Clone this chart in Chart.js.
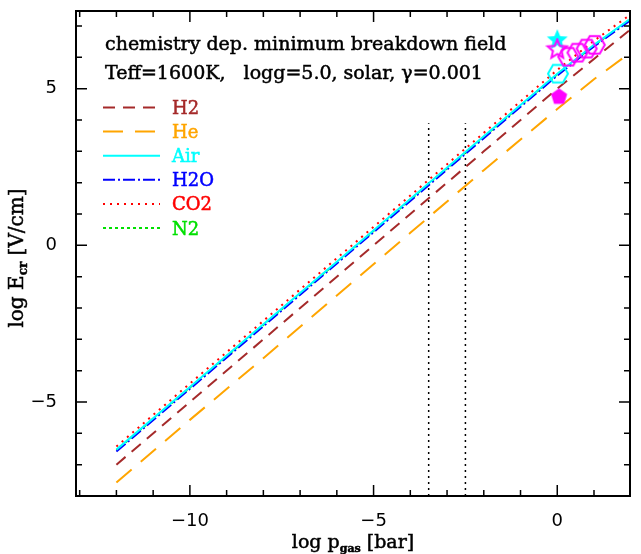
<!DOCTYPE html>
<html>
<head>
<meta charset="utf-8">
<script src="https://cdn.jsdelivr.net/npm/chart.js@4.4.0/dist/chart.umd.min.js"></script>
<style>
  html, body { margin: 0; padding: 0; background: #fff; }
  #wrap { width: 641px; height: 554px; position: relative; }
</style>
</head>
<body>
<div id="wrap"><canvas id="chart"></canvas></div>
<script>
// ── data ────────────────────────────────────────────────────────────────────
const logP = [-12, -10, -8, -6, -4, -2, 0, 1, 1.95];
const eH2  = [-7.0, -5.0, -3.0, -1.0, 1.0, 3.0, 5.0, 5.95, 6.85];
const eHe  = [-7.57, -5.57, -3.6, -1.6, 0.4, 2.4, 4.35, 5.3, 6.12];
const eAir = [-6.52, -4.52, -2.52, -0.52, 1.48, 3.48, 5.48, 6.4, 7.2];
const eH2O = [-6.58, -4.58, -2.58, -0.58, 1.42, 3.42, 5.42, 6.35, 7.15];
const eCO2 = [-6.42, -4.41, -2.41, -0.41, 1.59, 3.59, 5.6, 6.53, 7.33];
const eN2  = [-6.54, -4.54, -2.54, -0.54, 1.46, 3.46, 5.46, 6.38, 7.18];

// vertical markers
const cutP = [-3.5, -2.5];
const cutTop = 3.9;

// symbols near log p = 0
const pentP = [0.05], pentE = [4.74];
const hexP  = [0.02], hexE  = [5.48];
const starP = [0.0],  starE = [6.55];
const mStarP = [0.0], mStarE = [6.25];
const mHexP = [0.3, 0.55, 0.8, 1.02], mHexE = [6.02, 6.15, 6.28, 6.4];

const SERIF = "'DejaVu Serif', serif";
const SANS = "'DejaVu Sans', sans-serif";

const pts = (xs, ys) => xs.map((x, i) => ({ x, y: ys[i] }));

function polyMark(n, r, color, filled, rot) {
  const c = document.createElement('canvas');
  const s = Math.ceil(2 * r + 4);
  c.width = c.height = s;
  const g = c.getContext('2d');
  g.beginPath();
  for (let i = 0; i < n; i++) {
    const t = rot + i * 2 * Math.PI / n;
    const px = s / 2 + r * Math.cos(t), py = s / 2 + r * Math.sin(t);
    i ? g.lineTo(px, py) : g.moveTo(px, py);
  }
  g.closePath();
  if (filled) { g.fillStyle = color; g.fill(); }
  else { g.strokeStyle = color; g.lineWidth = 2; g.stroke(); }
  return c;
}

function starMark(r, color, filled) {
  const c = document.createElement('canvas');
  const s = Math.ceil(2 * r + 4);
  c.width = c.height = s;
  const g = c.getContext('2d');
  g.beginPath();
  for (let i = 0; i < 10; i++) {
    const t = -Math.PI / 2 + i * Math.PI / 5;
    const rr = i % 2 ? r * 0.45 : r;
    const px = s / 2 + rr * Math.cos(t), py = s / 2 + rr * Math.sin(t);
    i ? g.lineTo(px, py) : g.moveTo(px, py);
  }
  g.closePath();
  if (filled) { g.fillStyle = color; g.fill(); }
  else { g.strokeStyle = color; g.lineWidth = 2; g.stroke(); }
  return c;
}

function mark(label, xs, ys, style) {
  return { label, data: pts(xs, ys), showLine: false, pointStyle: style, pointRadius: 10, isMark: true };
}

function curve(label, ys, color, dash) {
  return {
    label, data: pts(logP, ys), showLine: true, borderColor: color, backgroundColor: color,
    borderWidth: 2, borderDash: dash, pointRadius: 0, tension: 0, isCurve: true,
  };
}

const datasets = [
  mark('mhex', mHexP, mHexE, polyMark(6, 10, '#ff00ff', false, 0)),
  mark('mstar', mStarP, mStarE, starMark(10, '#ff00ff', false)),
  mark('star', starP, starE, starMark(11, '#00ffff', true)),
  mark('hex', hexP, hexE, polyMark(6, 10, '#00ffff', false, 0)),
  mark('pent', pentP, pentE, polyMark(5, 8.5, '#ff00ff', true, -Math.PI / 2)),
  curve('H2',  eH2,  '#a52a2a', [12, 8]),
  curve('He',  eHe,  '#ffa500', [20, 12]),
  curve('Air', eAir, '#00ffff', []),
  curve('H2O', eH2O, '#0000ff', [12, 3, 2, 3]),
  curve('CO2', eCO2, '#ff0000', [2, 5]),
  curve('N2',  eN2,  '#00e000', [3, 3]),
  ...cutP.map(p => ({
    label: 'cut', data: [{ x: p, y: -8 }, { x: p, y: cutTop }], showLine: true,
    borderColor: '#000', borderWidth: 1.5, borderDash: [2, 4], pointRadius: 0,
  })),
];

function fmtTick(v) {
  if (!Number.isInteger(v) || v % 5 !== 0) return '';
  return v < 0 ? '\u2212' + Math.abs(v) : String(v);
}

// drop label-overflow padding so the plot box sits where the figure has it
function fixSize(prop, val) {
  return s => {
    s[prop] = val;
    s.paddingTop = s.paddingBottom = s.paddingLeft = s.paddingRight = 0;
  };
}

// text drawn a touch heavier, like the plotter font
function heavyText(ctx, t, x, y, color) {
  ctx.fillStyle = color;
  ctx.strokeStyle = color;
  ctx.lineWidth = 0.5;
  ctx.fillText(t, x, y);
  ctx.strokeText(t, x, y);
}

// ── frame, inward ticks, annotations and legend ─────────────────────────────
const framePlugin = {
  id: 'frame',
  afterDraw(chart) {
    const { ctx, chartArea: a, scales: { x, y } } = chart;
    ctx.save();
    ctx.strokeStyle = '#000';
    ctx.lineWidth = 2;
    ctx.strokeRect(a.left, a.top, a.right - a.left, a.bottom - a.top);
    ctx.lineWidth = 1.5;
    ctx.beginPath();
    for (let v = Math.ceil(x.min); v <= Math.floor(x.max); v++) {
      const px = x.getPixelForValue(v);
      const len = v % 5 === 0 ? 11 : 6;
      ctx.moveTo(px, a.bottom); ctx.lineTo(px, a.bottom - len);
      ctx.moveTo(px, a.top); ctx.lineTo(px, a.top + len);
    }
    for (let v = Math.ceil(y.min); v <= Math.floor(y.max); v++) {
      const py = y.getPixelForValue(v);
      const len = v % 5 === 0 ? 11 : 6;
      ctx.moveTo(a.left, py); ctx.lineTo(a.left + len, py);
      ctx.moveTo(a.right, py); ctx.lineTo(a.right - len, py);
    }
    ctx.stroke();

    // header text
    ctx.textBaseline = 'alphabetic';
    ctx.font = '19px ' + SERIF;
    heavyText(ctx, 'chemistry dep. minimum breakdown field', 105, 50, '#000');
    heavyText(ctx, 'Teff=1600K,   logg=5.0, solar, \u03b3=0.001', 105, 79, '#000');

    // legend
    const curves = chart.data.datasets.filter(d => d.isCurve);
    curves.forEach((d, i) => {
      const base = 114 + i * 24.1;
      ctx.strokeStyle = d.borderColor;
      ctx.lineWidth = 2;
      ctx.setLineDash(d.borderDash);
      ctx.beginPath();
      ctx.moveTo(103, base - 6.5); ctx.lineTo(160, base - 6.5);
      ctx.stroke();
      ctx.setLineDash([]);
      ctx.font = '18px ' + SERIF;
      heavyText(ctx, d.label, 172, base, d.borderColor);
    });

    // axis titles with subscripts
    const title = (parts, cx, cy) => {
      let w = 0;
      parts.forEach(p => { ctx.font = p.f; w += ctx.measureText(p.t).width; });
      let tx = cx - w / 2;
      parts.forEach(p => {
        ctx.font = p.f;
        heavyText(ctx, p.t, tx, cy + (p.dy || 0), '#000');
        tx += ctx.measureText(p.t).width;
      });
    };
    title([
      { t: 'log p', f: '19px ' + SERIF },
      { t: 'gas', f: 'bold 11px ' + SERIF, dy: 4 },
      { t: ' [bar]', f: '19px ' + SERIF },
    ], (a.left + a.right) / 2, 548);
    ctx.save();
    ctx.translate(23, 258);
    ctx.rotate(-Math.PI / 2);
    title([
      { t: 'log E', f: '20px ' + SERIF },
      { t: 'cr', f: 'bold 12px ' + SERIF, dy: 4 },
      { t: ' [V/cm]', f: '20px ' + SERIF },
    ], 0, 0);
    ctx.restore();
    ctx.restore();
  },
};

new Chart(document.getElementById('chart'), {
  type: 'scatter',
  data: { datasets },
  options: {
    responsive: true,
    maintainAspectRatio: false,
    animation: false,
    layout: { padding: { top: 10, right: 6, left: 0, bottom: 0 } },
    plugins: { legend: { display: false }, tooltip: { enabled: false } },
    scales: {
      x: {
        type: 'linear', min: -13.1, max: 1.98,
        afterFit: fixSize('height', 58),
        grid: { display: false, drawTicks: false },
        border: { display: false },
        ticks: {
          stepSize: 1, autoSkip: false, maxRotation: 0, padding: 15,
          color: '#000', font: { family: SANS, size: 18 }, callback: fmtTick,
        },
      },
      y: {
        type: 'linear', min: -8, max: 7.48,
        afterFit: fixSize('width', 76),
        grid: { display: false, drawTicks: false },
        border: { display: false },
        ticks: {
          stepSize: 1, autoSkip: false, padding: 19,
          color: '#000', font: { family: SANS, size: 18 }, callback: fmtTick,
        },
      },
    },
  },
  plugins: [framePlugin],
});
</script>
</body>
</html>
